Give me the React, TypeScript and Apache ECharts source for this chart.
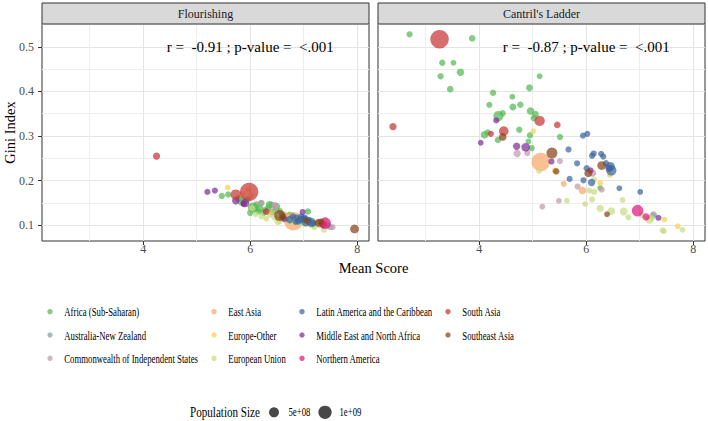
import React, { useEffect, useRef } from "react";
import * as echarts from "echarts";

const REGIONS = [
  "Africa (Sub-Saharan)",
  "Australia-New Zealand",
  "Commonwealth of Independent States",
  "East Asia",
  "Europe-Other",
  "European Union",
  "Latin America and the Caribbean",
  "Middle East and North Africa",
  "Northern America",
  "South Asia",
  "Southeast Asia",
];
const REGION_CODES = ["AF", "ANZ", "CIS", "EA", "EO", "EU", "LA", "ME", "NA", "SA", "SE"];
const COLORS = [
  "#55B955", "#86A0A6", "#C09AAE", "#F7A76A", "#F8D050", "#C8DC82",
  "#3A66A0", "#7E2E98", "#E0187A", "#C83434", "#864418",
];

const PANELS = ["Flourishing", "Cantril's Ladder"];
const CORR_LABELS = ["r =  -0.91 ; p-value =  <.001", "r =  -0.87 ; p-value =  <.001"];
const CORR_POS = [6, 0.5];

const X_TICKS = [4, 6, 8];
const X_MINOR = [3, 5, 7];
const Y_TICKS = [0.1, 0.2, 0.3, 0.4, 0.5];
const Y_MINOR = [0.15, 0.25, 0.35, 0.45, 0.55];
const X_RANGE = [2.11, 8.22];
const Y_RANGE = [0.065, 0.551];

const SIZE_LEGEND = [5e8, 1e9];
const SIZE_LEGEND_LABELS = ["5e+08", "1e+09"];

// [region, mean score, gini index, population (millions)]
const flourishingPoints: [string, number, number, number][] = [
  ["SA", 4.25, 0.255, 39], ["ME", 5.2, 0.175, 10], ["ME", 5.34, 0.178, 10],
  ["EO", 5.58, 0.185, 5], ["AF", 5.47, 0.166, 15], ["AF", 5.59, 0.169, 15],
  ["AF", 5.78, 0.16, 30], ["SA", 5.73, 0.169, 220], ["ME", 5.73, 0.155, 45],
  ["AF", 5.84, 0.154, 110], ["ME", 5.88, 0.148, 10], ["ME", 5.9, 0.15, 100],
  ["AF", 5.95, 0.158, 15], ["SA", 5.98, 0.175, 1380], ["EO", 5.97, 0.18, 5],
  ["EO", 5.86, 0.17, 5], ["EO", 6.02, 0.167, 5], ["AF", 6.0, 0.128, 15],
  ["AF", 6.05, 0.14, 206], ["EU", 6.04, 0.138, 10], ["AF", 6.09, 0.135, 15],
  ["AF", 6.12, 0.146, 30], ["EU", 6.1, 0.125, 5], ["AF", 6.15, 0.131, 10],
  ["AF", 6.18, 0.138, 54], ["CIS", 6.2, 0.15, 10], ["AF", 6.21, 0.15, 15],
  ["EU", 6.21, 0.12, 10], ["AF", 6.25, 0.128, 15], ["AF", 6.28, 0.134, 15],
  ["SA", 6.3, 0.131, 22], ["EU", 6.3, 0.115, 5], ["AF", 6.34, 0.139, 20],
  ["AF", 6.36, 0.146, 50], ["EU", 6.37, 0.124, 10], ["AF", 6.4, 0.146, 15],
  ["EA", 6.4, 0.128, 8], ["AF", 6.43, 0.13, 20], ["CIS", 6.45, 0.142, 10],
  ["CIS", 6.46, 0.146, 10], ["EU", 6.45, 0.118, 10], ["AF", 6.49, 0.142, 60],
  ["EU", 6.52, 0.109, 40], ["AF", 6.55, 0.132, 15], ["EU", 6.55, 0.112, 60],
  ["SE", 6.55, 0.122, 270], ["AF", 6.6, 0.125, 15], ["SE", 6.6, 0.118, 10],
  ["LA", 6.62, 0.12, 10], ["ME", 6.64, 0.114, 10], ["EA", 6.65, 0.12, 126],
  ["CIS", 6.66, 0.121, 10], ["EU", 6.7, 0.115, 65], ["AF", 6.74, 0.124, 15],
  ["LA", 6.74, 0.113, 50], ["EU", 6.75, 0.108, 5], ["LA", 6.8, 0.12, 10],
  ["EA", 6.81, 0.109, 1400], ["EU", 6.85, 0.112, 10], ["LA", 6.85, 0.108, 10],
  ["LA", 6.86, 0.117, 15], ["EO", 6.9, 0.117, 5], ["LA", 6.9, 0.11, 45],
  ["EU", 6.9, 0.105, 5], ["LA", 6.94, 0.113, 30], ["LA", 6.95, 0.12, 10],
  ["ME", 6.98, 0.13, 10], ["CIS", 6.98, 0.112, 145], ["LA", 7.0, 0.115, 15],
  ["EA", 7.0, 0.108, 50], ["EU", 7.02, 0.106, 80], ["LA", 7.02, 0.118, 5],
  ["LA", 7.05, 0.109, 210], ["SE", 7.05, 0.11, 5], ["AF", 7.08, 0.131, 15],
  ["LA", 7.1, 0.112, 10], ["LA", 7.14, 0.107, 128], ["EU", 7.15, 0.1, 10],
  ["AF", 7.17, 0.102, 5], ["LA", 7.18, 0.104, 10], ["EA", 7.2, 0.106, 8],
  ["EU", 7.2, 0.096, 5], ["CIS", 7.26, 0.104, 10], ["SE", 7.28, 0.106, 70],
  ["EU", 7.3, 0.1, 5], ["SE", 7.32, 0.108, 17], ["NA", 7.36, 0.102, 38],
  ["EO", 7.36, 0.098, 5], ["EU", 7.38, 0.09, 10], ["NA", 7.4, 0.105, 330],
  ["EO", 7.4, 0.11, 5], ["ANZ", 7.45, 0.1, 25], ["ANZ", 7.5, 0.096, 5],
  ["CIS", 7.54, 0.096, 10], ["SE", 7.95, 0.092, 110],
];

const cantrilPoints: [string, number, number, number][] = [
  ["AF", 2.7, 0.528, 10], ["SA", 3.26, 0.517, 1380], ["AF", 3.87, 0.519, 20],
  ["AF", 3.31, 0.464, 15], ["AF", 3.52, 0.464, 5], ["AF", 3.65, 0.443, 45],
  ["AF", 3.28, 0.434, 15], ["AF", 5.13, 0.434, 5], ["AF", 3.46, 0.405, 20],
  ["AF", 4.94, 0.408, 30], ["AF", 4.26, 0.397, 15], ["AF", 4.62, 0.388, 5],
  ["AF", 4.19, 0.37, 10], ["AF", 4.63, 0.365, 30], ["AF", 4.77, 0.37, 15],
  ["AF", 4.36, 0.345, 206], ["AF", 4.44, 0.351, 15], ["AF", 4.96, 0.356, 50],
  ["AF", 5.05, 0.349, 30], ["AF", 5.02, 0.34, 15], ["AF", 4.1, 0.303, 50],
  ["AF", 4.16, 0.308, 15], ["AF", 4.75, 0.314, 15], ["AF", 4.35, 0.291, 15],
  ["AF", 4.95, 0.302, 15], ["AF", 5.51, 0.298, 15], ["AF", 4.92, 0.288, 5],
  ["AF", 4.98, 0.273, 15], ["AF", 6.26, 0.184, 3],
  ["SA", 2.39, 0.321, 39], ["SA", 5.13, 0.334, 220], ["SA", 5.46, 0.325, 22],
  ["SA", 4.22, 0.305, 10], ["SA", 4.46, 0.311, 165],
  ["ME", 4.32, 0.335, 10], ["ME", 4.03, 0.285, 5], ["ME", 4.7, 0.277, 45],
  ["ME", 4.87, 0.275, 100], ["ME", 5.35, 0.243, 10], ["ME", 6.08, 0.223, 10],
  ["ME", 7.35, 0.117, 9],
  ["SE", 4.44, 0.298, 55], ["SE", 5.36, 0.262, 270], ["SE", 5.44, 0.221, 17],
  ["SE", 6.29, 0.234, 110], ["SE", 6.04, 0.217, 70], ["SE", 6.39, 0.125, 5],
  ["CIS", 4.71, 0.261, 40], ["CIS", 4.9, 0.262, 10], ["CIS", 5.51, 0.244, 10],
  ["CIS", 6.12, 0.217, 40], ["CIS", 5.84, 0.187, 10], ["CIS", 6.29, 0.18, 10],
  ["CIS", 5.49, 0.155, 5], ["CIS", 5.18, 0.142, 5],
  ["EA", 5.15, 0.242, 1400], ["EA", 5.58, 0.193, 8], ["EA", 5.93, 0.178, 50],
  ["EO", 5.01, 0.311, 5], ["EO", 5.41, 0.223, 5], ["EO", 6.44, 0.213, 5],
  ["EO", 6.26, 0.195, 5], ["EO", 7.46, 0.113, 5], ["EO", 7.71, 0.098, 5],
  ["EU", 5.12, 0.222, 5], ["EU", 6.15, 0.202, 5], ["EU", 6.06, 0.178, 10],
  ["EU", 6.15, 0.175, 10], ["EU", 5.64, 0.155, 5], ["EU", 5.98, 0.148, 5],
  ["EU", 6.11, 0.158, 10], ["EU", 6.26, 0.138, 40], ["EU", 6.47, 0.132, 60],
  ["EU", 6.68, 0.157, 5], ["EU", 6.7, 0.131, 65], ["EU", 6.79, 0.118, 10],
  ["EU", 7.04, 0.123, 10], ["EU", 7.18, 0.113, 80], ["EU", 7.22, 0.117, 20],
  ["EU", 7.43, 0.089, 10], ["EU", 7.45, 0.087, 5], ["EU", 7.8, 0.09, 5],
  ["LA", 5.94, 0.301, 10], ["LA", 6.02, 0.305, 10], ["LA", 5.67, 0.27, 10],
  ["LA", 6.11, 0.256, 10], ["LA", 6.14, 0.261, 10], ["LA", 6.28, 0.26, 10],
  ["LA", 6.32, 0.254, 10], ["LA", 5.83, 0.239, 10], ["LA", 6.01, 0.228, 15],
  ["LA", 6.37, 0.239, 15], ["LA", 6.45, 0.232, 128], ["LA", 6.47, 0.223, 212],
  ["LA", 6.43, 0.228, 50], ["LA", 5.69, 0.204, 10], ["LA", 5.95, 0.201, 10],
  ["LA", 6.1, 0.196, 45], ["LA", 6.62, 0.183, 5], ["LA", 7.01, 0.175, 5],
  ["NA", 6.96, 0.133, 330], ["NA", 7.12, 0.119, 38],
  ["ANZ", 7.26, 0.124, 25], ["ANZ", 7.24, 0.121, 5],
];

const PANEL_POINTS = [flourishingPoints, cantrilPoints];

const FONT = "'Liberation Serif', 'DejaVu Serif', serif";

// layout
const GRID_LEFT = [42, 378];
const GRID_TOP = 24;
const GRID_W = 327;
const GRID_H = 217;

function sizeOf(popMillions: number) {
  return 5 + 13.5 * Math.sqrt(popMillions / 1400);
}

export default function App() {
  const ref = useRef<HTMLDivElement>(null);

  useEffect(() => {
    document.body.style.margin = "0";
    if (!ref.current) return;
    const chart = echarts.init(ref.current, null, { renderer: "svg" });

    const grids = PANELS.map((_, p) => ({
      left: GRID_LEFT[p],
      top: GRID_TOP,
      width: GRID_W,
      height: GRID_H,
      show: true,
      backgroundColor: "#FFFFFF",
      borderColor: "#333333",
      borderWidth: 1,
    }));

    const xAxes: any[] = [];
    const yAxes: any[] = [];
    PANELS.forEach((_, p) => {
      xAxes.push({
        type: "value",
        gridIndex: p,
        min: X_RANGE[0],
        max: X_RANGE[1],
        position: "bottom",
        axisLine: { show: false },
        axisTick: { show: true, customValues: X_TICKS, length: 4, lineStyle: { color: "#333333" } },
        axisLabel: { customValues: X_TICKS, color: "#4D4D4D", fontSize: 12, fontFamily: FONT, margin: 2 },
        splitLine: { show: true, lineStyle: { color: "#E4E4E4", width: 1 } },
      });
      yAxes.push({
        type: "value",
        gridIndex: p,
        min: Y_RANGE[0],
        max: Y_RANGE[1],
        position: "left",
        axisLine: { show: false },
        axisTick: { show: p === 0, customValues: Y_TICKS, length: 4, lineStyle: { color: "#333333" } },
        axisLabel: { show: p === 0, customValues: Y_TICKS, color: "#4D4D4D", fontSize: 12, fontFamily: FONT, margin: 8 },
        splitLine: { show: true, lineStyle: { color: "#E4E4E4", width: 1 } },
      });
    });

    const series: any[] = [];
    PANELS.forEach((_, p) => {
      // minor grid lines
      series.push({
        type: "scatter",
        xAxisIndex: p,
        yAxisIndex: p,
        data: [],
        silent: true,
        z: 1,
        markLine: {
          silent: true,
          z: 1,
          symbol: "none",
          label: { show: false },
          lineStyle: { color: "#EDEDED", width: 1, type: "solid" },
          data: [
            ...X_MINOR.map((v) => ({ xAxis: v })),
            ...Y_MINOR.filter((v) => v < Y_RANGE[1]).map((v) => ({ yAxis: v })),
          ],
        },
      });
      REGION_CODES.forEach((code, r) => {
        series.push({
          type: "scatter",
          name: REGIONS[r],
          xAxisIndex: p,
          yAxisIndex: p,
          data: PANEL_POINTS[p].filter((d) => d[0] === code).map((d) => [d[1], d[2], d[3]]),
          symbolSize: (v: number[]) => sizeOf(v[2]),
          itemStyle: { color: COLORS[r], opacity: 0.72 },
          silent: true,
          z: 3,
        });
      });
      series.push({
        type: "scatter",
        xAxisIndex: p,
        yAxisIndex: p,
        data: [CORR_POS],
        symbolSize: 1,
        itemStyle: { color: "rgba(0,0,0,0)" },
        silent: true,
        z: 6,
        label: {
          show: true,
          position: "inside",
          formatter: () => CORR_LABELS[p],
          color: "#000000",
          opacity: 1,
          fontSize: 15,
          fontFamily: FONT,
        },
      });
    });

    const graphics: any[] = [];
    // strips
    PANELS.forEach((name, p) => {
      graphics.push({
        type: "rect",
        shape: { x: GRID_LEFT[p], y: 3, width: GRID_W, height: GRID_TOP - 3 },
        style: { fill: "#D9D9D9", stroke: "#333333", lineWidth: 1 },
        z: 10,
      });
      graphics.push({
        type: "text",
        x: GRID_LEFT[p] + GRID_W / 2,
        y: 3 + (GRID_TOP - 3) / 2,
        style: { text: name, fill: "#1A1A1A", font: `12px ${FONT}`, align: "center", verticalAlign: "middle" },
        z: 11,
      });
    });
    // axis titles
    graphics.push({
      type: "text",
      x: (GRID_LEFT[0] + GRID_LEFT[1] + GRID_W) / 2,
      y: 268,
      style: { text: "Mean Score", fill: "#000", font: `14.5px ${FONT}`, align: "center", verticalAlign: "middle" },
    });
    graphics.push({
      type: "text",
      x: 10,
      y: GRID_TOP + GRID_H / 2,
      rotation: Math.PI / 2,
      style: { text: "Gini Index", fill: "#000", font: `14.5px ${FONT}`, align: "center", verticalAlign: "middle" },
    });
    // region legend (column-major, 3 rows)
    const colDotX = [50, 214, 302, 448];
    const rowY = [311.7, 335, 358.3];
    REGIONS.forEach((name, i) => {
      const col = Math.floor(i / 3);
      const row = i % 3;
      graphics.push({
        type: "circle",
        shape: { cx: colDotX[col], cy: rowY[row], r: 2.7 },
        style: { fill: COLORS[i], opacity: 0.72 },
      });
      graphics.push({
        type: "text",
        x: colDotX[col] + 14.3,
        y: rowY[row],
        scaleX: 0.7,
        style: { text: name, fill: "#000", font: `12.5px ${FONT}`, align: "left", verticalAlign: "middle" },
      });
    });
    // size legend
    const sizeY = 412.3;
    graphics.push({
      type: "text",
      x: 190,
      y: sizeY,
      scaleX: 0.74,
      style: { text: "Population Size", fill: "#000", font: `15px ${FONT}`, align: "left", verticalAlign: "middle" },
    });
    const sizeDotX = [274, 325];
    const sizeDotD = [10, 13.3];
    SIZE_LEGEND.forEach((_, i) => {
      graphics.push({
        type: "circle",
        shape: { cx: sizeDotX[i], cy: sizeY, r: sizeDotD[i] / 2 },
        style: { fill: "#333333", opacity: 0.9 },
      });
      graphics.push({
        type: "text",
        x: sizeDotX[i] + 14.5,
        y: sizeY,
        scaleX: 0.76,
        style: { text: SIZE_LEGEND_LABELS[i], fill: "#000", font: `11.5px ${FONT}`, align: "left", verticalAlign: "middle" },
      });
    });

    chart.setOption({
      animation: false,
      backgroundColor: "#FFFFFF",
      grid: grids,
      xAxis: xAxes,
      yAxis: yAxes,
      series,
      graphic: graphics,
    });

    return () => chart.dispose();
  }, []);

  return <div ref={ref} style={{ width: 708, height: 421 }} />;
}
